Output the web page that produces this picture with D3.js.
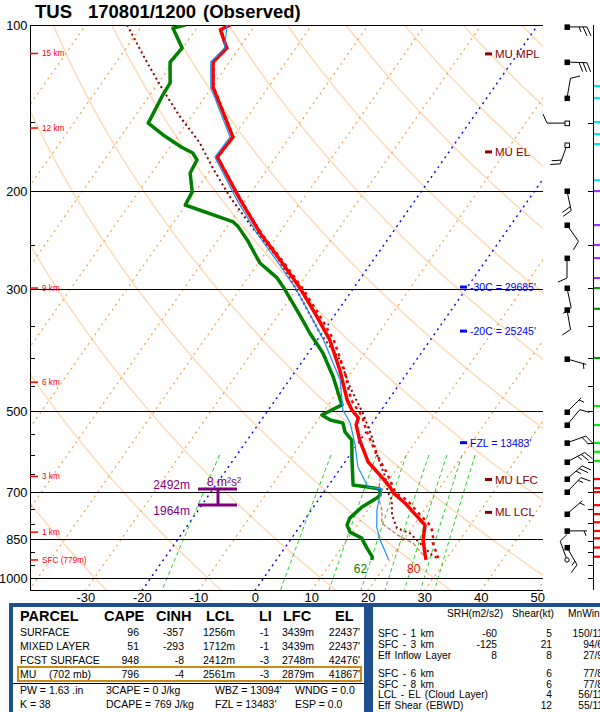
<!DOCTYPE html>
<html><head><meta charset="utf-8">
<script src="https://cdn.jsdelivr.net/npm/d3@7"></script>
<style>
body{margin:0;background:#fff}
svg{display:block}
text{font-family:"Liberation Sans",Arial,Helvetica,sans-serif}
</style>
</head><body>
<svg id="c" width="600" height="712"></svg>
<script>
// ---------------- DATA ----------------
const stationTitle = ["TUS", "170801/1200", "(Observed)"];
const pressureLabels = [100, 200, 300, 500, 700, 850, 1000];
const pressureTicks = [150, 250, 350, 400, 450, 550, 600, 650, 750, 800, 900, 950];
const tempLabels = [-30, -20, -10, 0, 10, 20, 30, 40, 50];
const isotherms = d3.range(-130, 60, 10);
const blueIsotherms = [-20, 0];
const dryAdiabats = d3.range(-30, 250, 20);
const mixRatios = [1, 5, 9, 13, 17, 21, 25, 29];

const heightP = [112.6, 153.6, 299.2, 443.0, 656.0, 827.5, 929.0];
const heightLbl = ["15 km", "12 km", "9 km", "6 km", "3 km", "1 km", "SFC (779m)"];

const tempP = [100, 102, 110.1, 116.7, 129.5, 159.5, 173.3, 207.2, 237.9, 266.2, 299.2, 337.5, 371.5, 421.1, 476.9, 497.4, 514, 529.4, 563.9, 617.6, 652.1, 685.7, 702.9, 732.8, 803.7, 855, 909.6, 929];
const tempT = [-74.5, -75.6, -72.2, -72.9, -69.8, -60.1, -60.4, -51.0, -43.4, -36.5, -29.5, -22.9, -17.8, -12.3, -7.3, -5.2, -3.1, -2.6, -0.1, 4.1, 7.8, 11.1, 12.4, 15.7, 22.0, 23.5, 25.7, 26.5];

const dewP = [100, 101.3, 110.1, 116.7, 127.3, 133.9, 150.5, 158.1, 166.4, 170.5, 175.5, 185.3, 200.4, 211.7, 227.2, 231.9, 244.9, 269.6, 286.9, 297.9, 336.1, 360.9, 392.3, 433.4, 476.9, 486.9, 507.9, 518.6, 525, 545.1, 563.9, 612.5, 680, 685.7, 691.4, 708.8, 717.7, 745.1, 780.4, 803.7, 827.5, 848.5, 881.8, 917.4, 929];
const dewT = [-82.4, -84.2, -80.1, -80.5, -77.9, -77.7, -76.8, -72.7, -67.9, -65.2, -63.6, -63.2, -60.5, -60.1, -49.5, -48.0, -44.8, -39.7, -34.8, -32.6, -26.0, -22.2, -17.4, -12.6, -8.5, -7.6, -9.9, -7.8, -5.2, -3.7, -1.5, 1.0, 4.3, 7.1, 9.5, 10.3, 10.1, 8.6, 7.8, 8.2, 9.6, 12.4, 14.4, 16.6, 16.9];

const wbP = [100, 110.1, 116.7, 129.5, 159.5, 173.3, 207.2, 237.9, 266.2, 299.2, 337.5, 371.5, 438.9, 497.4, 525, 575.5, 630.6, 685.7, 691.4, 708.8, 754.4, 810.4, 855, 921.3, 929];
const wbT = [-75.0, -72.6, -73.3, -70.2, -60.6, -60.8, -51.6, -44.0, -37.2, -30.3, -23.9, -18.9, -11.0, -6.8, -3.9, -0.3, 2.9, 7.2, 10.0, 10.3, 11.6, 13.7, 15.9, 19.5, 19.8];

const tvP = [100, 102, 110.1, 116.7, 129.5, 159.5, 173.3, 207.2, 237.9, 266.2, 299.2, 337.5, 371.5, 421.1, 476.9, 511.9, 540.6, 595.4, 646.7, 702.9, 723.7, 770.4, 803.7, 830.9, 865.8, 917.4, 929];
const tvT = [-74.4, -75.5, -72.1, -72.8, -69.7, -60.0, -60.3, -50.9, -43.2, -36.2, -29.1, -22.3, -17.1, -11.5, -6.6, -2.5, -0.2, 4.4, 8.8, 12.8, 15.7, 19.9, 22.9, 24.4, 25.6, 28.2, 28.6];

const parcelP = [100, 116.7, 131.1, 146.7, 163.5, 181.5, 204.7, 233.0, 262.9, 305.5, 360.9, 403.8, 452.0, 503.7, 556.9, 605.0, 657.6, 700, 723.7, 770.4, 813.8, 830.9, 865.8, 909.6, 921];
const parcelT = [-92.7, -84.6, -78.3, -71.9, -65.2, -59.8, -53.2, -45.3, -37.4, -29.2, -20.4, -13.5, -8.4, -2.9, 1.7, 5.2, 9.0, 11.3, 13.0, 14.9, 17.4, 20.3, 23.3, 26.9, 28.2];

const ddP = [657.6, 714.2, 754.4, 797.1, 837.0, 865.8, 917.4];
const ddT = [8.1, 10.2, 12.5, 14.1, 18.3, 22.1, 25.9];

const windP = [100.8, 116.7, 135.6, 150.5, 164.9, 199.7, 230.1, 264.1, 299.2, 327.7, 402.1, 501.6, 529.4, 570.4, 617.6, 663.0, 700.0, 767.2, 823.0, 882.0, 929];
const windDir = [90, 92, 10, 270, 200, 168, 145, 180, 168, 170, 106, 45, 40, 70, 62, 49, 44, 49, 90, 150, 340];
const windSpd = [25, 30, 10, 10, 20, 20, 10, 10, 10, 10, 5, 5, 10, 20, 25, 25, 15, 5, 5, 15, 10];
const windMark = ["s","s","s","o","o","s","s","s","s","s","s","s","s","s","s","s","s","s","s","s","c"];

const stripTickP = [150.5, 199.7, 250, 299.2, 350, 400, 450, 500, 570, 618, 700, 750, 795, 860, 900, 950, 1000];
const stripMarkP = [128.9, 135.5, 149.8, 157.5, 164.2, 190.9, 199.7, 230.1, 250, 264, 286.9, 299.2, 326.2, 400.4, 489, 529.4, 570.4, 591.7, 615, 663, 688.6, 700, 739.1, 767.2, 793.7, 823, 848.5, 881.8, 916.2];
const stripMarkC = ["#00e5ee","#00e5ee","#00e5ee","#00e5ee","#00e5ee","#00e5ee","#9b30ff","#9b30ff","#9b30ff","#9b30ff","#9b30ff","#009900","#009900","#009900","#00ee00","#00ee00","#00ee00","#00ee00","#00ee00","#ff0000","#ff0000","#ff0000","#ff0000","#ff0000","#ff0000","#ff0000","#ff0000","#ff0000","#ff0000"];

const levelLabels = ["MU MPL", "MU EL", "MU LFC", "ML LCL"];
const levelLabelP = [112.8, 169.7, 664.5, 762];
const isoLabels = ["-30C = 29685'", "-20C = 25245'", "FZL = 13483'"];
const isoLabelP = [298, 358, 570];

const inflowBottomP = 739, inflowTopP = 691.4;
const inflowTexts = ["2492m", "1964m", "8 m\u00b2s\u00b2"];
const sfcTd = "62", sfcT = "80";

const parcelNames = ["SURFACE", "MIXED LAYER", "FCST SURFACE", "MU"];
const capeVals = ["96", "51", "948", "796"];
const cinhVals = ["-357", "-293", "-8", "-4"];
const lclVals = ["1256m", "1712m", "2412m", "2561m"];
const liVals = ["-1", "-1", "-3", "-3"];
const lfcVals = ["3439m", "3439m", "2748m", "2879m"];
const elVals = ["22437'", "22437'", "42476'", "41867'"];
const indexRow1 = ["PW = 1.63 .in", "3CAPE = 0 J/kg", "WBZ = 13094'", "WNDG = 0.0"];
const indexRow2 = ["K = 38", "DCAPE = 769 J/kg", "FZL = 13483'", "ESP = 0.0"];

const layerNames = ["SFC - 1 km", "SFC - 3 km", "Eff Inflow Layer", "SFC - 6 km", "SFC - 8 km", "LCL - EL (Cloud Layer)", "Eff Shear (EBWD)"];
const srhVals = ["-60", "-125", "8", "", "", "", ""];
const shearVals = ["5", "21", "8", "6", "6", "4", "12"];
const mnWindVals = ["150/11", "94/6", "27/9", "77/8", "77/8", "56/11", "55/11"];

// ---------------- SCALES ----------------
const svg = d3.select("#c");
const PL = 30, PR = 543, PT = 25, PB = 590;
const y = d3.scaleLog().domain([100, 1000]).range([25, 577.6]);
const xT = d3.scaleLinear().domain([0, 10]).range([264, 320.5]);
const SKEW = 0.7;
const yBase = y(1000);
const X = (T, p) => xT(T) + SKEW * (yBase - y(p));
const pBottom = y.invert(PB);

svg.append("defs").append("clipPath").attr("id", "plot")
  .append("rect").attr("x", PL).attr("y", PT).attr("width", PR - PL).attr("height", PB - PT);

const bg = svg.append("g").attr("clip-path", "url(#plot)");
const line = d3.line().x(d => d[0]).y(d => d[1]);
const pSamples = d3.range(95, 1100, 5);

dryAdiabats.forEach(th => {
  const pts = pSamples.map(p => [X((th + 273.15) * Math.pow(p / 1000, 0.2857) - 273.15, p), y(p)]);
  bg.append("path").attr("d", line(pts)).attr("fill", "none")
    .attr("stroke", "#fddcbc").attr("stroke-width", 1.6);
});
isotherms.forEach(t => {
  const blue = blueIsotherms.includes(t);
  bg.append("line").attr("x1", X(t, 1100)).attr("y1", y(1100)).attr("x2", X(t, 95)).attr("y2", y(95))
    .attr("stroke", blue ? "#0000ff" : "#f7a34f").attr("stroke-width", blue ? 1.4 : 1.3)
    .attr("stroke-dasharray", "2,4");
});
function tdFromW(w, p) {
  const e = w * p / (622 + w);
  const l = Math.log(e / 6.112);
  return 243.5 * l / (17.67 - l);
}
mixRatios.forEach(w => {
  const pts = d3.range(600, 1100, 10).map(p => [X(tdFromW(w, p), p), y(p)]);
  bg.append("path").attr("d", line(pts)).attr("fill", "none")
    .attr("stroke", "#22cc22").attr("stroke-width", 1).attr("stroke-dasharray", "4,3");
});
pressureLabels.forEach(p => {
  svg.append("line").attr("x1", PL).attr("x2", PR).attr("y1", Math.round(y(p)) + 0.5).attr("y2", Math.round(y(p)) + 0.5)
    .attr("stroke", "#000").attr("stroke-width", 1);
  svg.append("text").attr("x", 27.5).attr("y", y(p) + 5).attr("text-anchor", "end")
    .attr("font-size", 12.8).text(p);
});
svg.append("line").attr("x1", PL + 0.5).attr("x2", PL + 0.5).attr("y1", PT).attr("y2", PB).attr("stroke", "#000");
svg.append("line").attr("x1", PL).attr("x2", PR).attr("y1", PB + 0.5).attr("y2", PB + 0.5).attr("stroke", "#000");
pressureTicks.forEach(p => {
  svg.append("line").attr("x1", PL).attr("x2", PL + 5).attr("y1", Math.round(y(p)) + 0.5).attr("y2", Math.round(y(p)) + 0.5).attr("stroke", "#000");
});
tempLabels.forEach(t => {
  svg.append("text").attr("x", X(t, pBottom)).attr("y", 602).attr("text-anchor", "middle")
    .attr("font-size", 13).text(t);
});
heightP.forEach((p, i) => {
  const yy = y(p);
  svg.append("line").attr("x1", PL).attr("x2", PL + 8).attr("y1", yy).attr("y2", yy).attr("stroke", "#ff0000").attr("stroke-width", 1.5);
  svg.append("text").attr("x", PL + 12).attr("y", yy + 3).attr("font-size", 8.2).attr("fill", "#ff0000").text(heightLbl[i]);
});

// ---------------- TRACES ----------------
const tr = svg.append("g").attr("clip-path", "url(#plot)");
const prof = (P, T) => line(P.map((p, i) => [X(T[i], p), y(p)]));
tr.append("path").attr("d", prof(ddP, ddT)).attr("fill", "none").attr("stroke", "#c8743c").attr("stroke-width", 1.2).attr("stroke-dasharray", "4,2");
tr.append("path").attr("d", prof(parcelP, parcelT)).attr("fill", "none").attr("stroke", "#8b0000").attr("stroke-width", 2).attr("stroke-dasharray", "2,3");
tr.append("path").attr("d", prof(tvP, tvT)).attr("fill", "none").attr("stroke", "#ff0000").attr("stroke-width", 2.5).attr("stroke-dasharray", "3,4");
tr.append("path").attr("d", prof(dewP, dewT)).attr("fill", "none").attr("stroke", "#008000").attr("stroke-width", 3.5).attr("stroke-linejoin", "round");
tr.append("path").attr("d", prof(tempP, tempT)).attr("fill", "none").attr("stroke", "#ff0000").attr("stroke-width", 3.5).attr("stroke-linejoin", "round");
tr.append("path").attr("d", prof(wbP, wbT)).attr("fill", "none").attr("stroke", "#1e90ff").attr("stroke-width", 1.2);

svg.append("text").attr("x", X(dewT[dewT.length - 1], 1000) + 1).attr("y", 573).attr("text-anchor", "middle").attr("font-size", 12).attr("fill", "#008000").text(sfcTd);
svg.append("text").attr("x", X(tempT[tempT.length - 1], 1000)).attr("y", 573).attr("text-anchor", "middle").attr("font-size", 12).attr("fill", "#ff0000").text(sfcT);

levelLabels.forEach((l, i) => {
  const yy = y(levelLabelP[i]);
  svg.append("rect").attr("x", 485).attr("y", yy - 1.5).attr("width", 7).attr("height", 3).attr("fill", "#8b0000");
  svg.append("text").attr("x", 495).attr("y", yy + 4).attr("font-family", "Liberation Mono, monospace").attr("font-size", 11.5).attr("fill", "#8b0000").text(l);
});
isoLabels.forEach((l, i) => {
  const yy = y(isoLabelP[i]);
  svg.append("rect").attr("x", 460).attr("y", yy - 1.5).attr("width", 7).attr("height", 3).attr("fill", "#0000ff");
  svg.append("text").attr("x", 470).attr("y", yy + 4).attr("font-size", 10.5).attr("fill", "#0000ff").text(l);
});

const purple = "#800080";
const yTop = y(inflowTopP), yBot = y(inflowBottomP);
svg.append("line").attr("x1", 198).attr("x2", 237).attr("y1", yTop).attr("y2", yTop).attr("stroke", purple).attr("stroke-width", 3);
svg.append("line").attr("x1", 198).attr("x2", 237).attr("y1", yBot).attr("y2", yBot).attr("stroke", purple).attr("stroke-width", 3);
svg.append("line").attr("x1", 218).attr("x2", 218).attr("y1", yTop).attr("y2", yBot).attr("stroke", purple).attr("stroke-width", 3);
svg.append("text").attr("x", 190).attr("y", yTop).attr("text-anchor", "end").attr("font-size", 12).attr("fill", purple).text(inflowTexts[0]);
svg.append("text").attr("x", 190).attr("y", yBot + 10).attr("text-anchor", "end").attr("font-size", 12).attr("fill", purple).text(inflowTexts[1]);
svg.append("text").attr("x", 207).attr("y", yTop - 3).attr("font-size", 12).attr("fill", purple).text(inflowTexts[2]);

// ---------------- WIND BARBS ----------------
const wb = svg.append("g").attr("stroke", "#000").attr("stroke-width", 1).attr("fill", "none");
const WX = 567;
windP.forEach((p, i) => {
  const py = y(p);
  const r = windDir[i] * Math.PI / 180;
  const vx = Math.sin(r), vy = -Math.cos(r);
  const L = 20;
  const tx = WX + vx * L, ty = py + vy * L;
  wb.append("line").attr("x1", WX).attr("y1", py).attr("x2", tx).attr("y2", ty);
  const qx = -vy, qy = vx;
  let s = Math.round(windSpd[i] / 5) * 5, pos = 0;
  while (s >= 10) {
    const sx = tx - vx * pos, sy = ty - vy * pos;
    wb.append("line").attr("x1", sx).attr("y1", sy).attr("x2", sx + qx * 9 + vx * 4).attr("y2", sy + qy * 9 + vy * 4);
    pos += 4; s -= 10;
  }
  if (s >= 5) {
    if (pos === 0) pos = 3;
    const sx = tx - vx * pos, sy = ty - vy * pos;
    wb.append("line").attr("x1", sx).attr("y1", sy).attr("x2", sx + qx * 5 + vx * 2).attr("y2", sy + qy * 5 + vy * 2);
  }
  if (windMark[i] === "c") {
    wb.append("circle").attr("cx", WX).attr("cy", py).attr("r", 2.2).attr("fill", "#fff");
  } else {
    wb.append("rect").attr("x", WX - 2).attr("y", py - 2).attr("width", 4.5).attr("height", 4.5)
      .attr("fill", windMark[i] === "s" ? "#000" : "#fff").attr("stroke-width", 1);
  }
});

svg.append("line").attr("x1", 593.5).attr("x2", 593.5).attr("y1", PT).attr("y2", PB).attr("stroke", "#000");
stripTickP.forEach(p => {
  svg.append("line").attr("x1", 588).attr("x2", 593).attr("y1", Math.round(y(p)) + 0.5).attr("y2", Math.round(y(p)) + 0.5).attr("stroke", "#000");
});
stripMarkP.forEach((p, i) => {
  svg.append("rect").attr("x", 594).attr("y", y(p) - 1).attr("width", 6).attr("height", 2.2).attr("fill", stripMarkC[i]);
});

// ---------------- TITLE ----------------
const tx0 = [35, 88, 203];
stationTitle.forEach((t, i) => svg.append("text").attr("x", tx0[i]).attr("y", 18).attr("font-size", 18.5).attr("font-weight", "bold").text(t));

// ---------------- TABLES ----------------
const navy = "#1f4f8f";
svg.append("rect").attr("x", 9).attr("y", 603).attr("width", 591).attr("height", 109).attr("fill", navy);
svg.append("rect").attr("x", 13).attr("y", 607).attr("width", 351).attr("height", 105).attr("fill", "#fff");
svg.append("rect").attr("x", 373).attr("y", 607).attr("width", 227).attr("height", 105).attr("fill", "#fff");

const lt = svg.append("g").attr("font-size", 10.5);
const hdr = [["PARCEL", 20], ["CAPE", 104], ["CINH", 156], ["LCL", 206], ["LI", 259], ["LFC", 283], ["EL", 335]];
hdr.forEach(h => svg.append("text").attr("x", h[1]).attr("y", 621).attr("font-size", 14.5).attr("font-weight", "bold").text(h[0]));
const rowY = [636, 650, 664, 678];
parcelNames.forEach((n, i) => {
  lt.append("text").attr("x", 20).attr("y", rowY[i]).text(n);
  lt.append("text").attr("x", 139).attr("y", rowY[i]).attr("text-anchor", "end").text(capeVals[i]);
  lt.append("text").attr("x", 184).attr("y", rowY[i]).attr("text-anchor", "end").text(cinhVals[i]);
  lt.append("text").attr("x", 203).attr("y", rowY[i]).text(lclVals[i]);
  lt.append("text").attr("x", 269).attr("y", rowY[i]).attr("text-anchor", "end").text(liVals[i]);
  lt.append("text").attr("x", 282).attr("y", rowY[i]).text(lfcVals[i]);
  lt.append("text").attr("x", 360).attr("y", rowY[i]).attr("text-anchor", "end").text(elVals[i]);
});
lt.append("text").attr("x", 49).attr("y", rowY[3]).text("(702 mb)");
svg.append("rect").attr("x", 18).attr("y", 667).attr("width", 343).attr("height", 14).attr("fill", "none").attr("stroke", "#cc8a14").attr("stroke-width", 2);
svg.append("line").attr("x1", 13).attr("x2", 364).attr("y1", 683.5).attr("y2", 683.5).attr("stroke", "#000");
const idxX = [20, 106, 215, 295];
indexRow1.forEach((t, i) => lt.append("text").attr("x", idxX[i]).attr("y", 694).text(t));
indexRow2.forEach((t, i) => lt.append("text").attr("x", idxX[i]).attr("y", 708).text(t));

const rt = svg.append("g").attr("font-size", 10.2).attr("word-spacing", 1.5);
rt.append("text").attr("x", 447).attr("y", 617).text("SRH(m2/s2)");
rt.append("text").attr("x", 512).attr("y", 617).text("Shear(kt)");
rt.append("text").attr("x", 568).attr("y", 617).text("MnWind");
const rRowY = [637, 648, 659, 677, 687.5, 698, 708.5];
layerNames.forEach((n, i) => {
  rt.append("text").attr("x", 378).attr("y", rRowY[i]).text(n);
  rt.append("text").attr("x", 497).attr("y", rRowY[i]).attr("text-anchor", "end").text(srhVals[i]);
  rt.append("text").attr("x", 552).attr("y", rRowY[i]).attr("text-anchor", "end").text(shearVals[i]);
  rt.append("text").attr("x", 603).attr("y", rRowY[i]).attr("text-anchor", "end").text(mnWindVals[i]);
});
</script>
</body></html>
